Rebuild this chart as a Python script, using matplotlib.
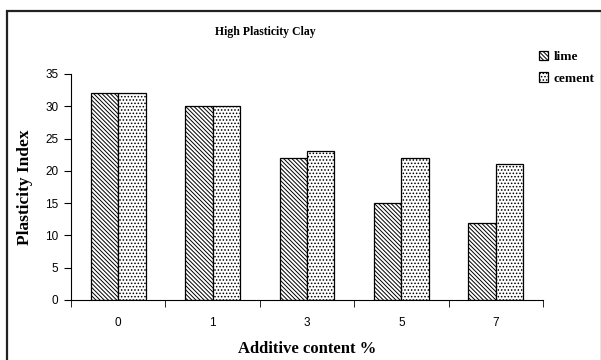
import matplotlib.pyplot as plt
import numpy as np
from matplotlib.patches import Rectangle

# additive content (%) and plasticity index values
content = ['0', '1', '3', '5', '7']
lime = [32, 30, 22, 15, 12]
cement = [32, 30, 23, 22, 21]

plt.rcParams['hatch.linewidth'] = 0.7

fig = plt.figure(figsize=(6.01, 3.60), dpi=100)
ax = fig.add_axes([71/601, 1 - 300/360, (543 - 71)/601, (300 - 74)/360])

x = np.arange(len(content))
w = 0.29
ax.bar(x - w/2, lime, w, color='white', edgecolor='black', hatch='\\' * 8,
       linewidth=0.9, label='lime')
ax.bar(x + w/2, cement, w, color='white', edgecolor='black', hatch='.' * 5,
       linewidth=0.9, label='cement')

ax.set_xlim(-0.5, len(content) - 0.5)
ax.set_ylim(0, 35)
ax.set_yticks(range(0, 36, 5))
ax.set_xticks(x)
ax.set_xticklabels(content)
ax.set_xticks(np.arange(-0.5, len(content)), minor=True)
ax.tick_params(axis='x', which='major', length=0, pad=12)
ax.tick_params(axis='x', which='minor', length=5, direction='out')
ax.tick_params(axis='y', length=5, direction='out', pad=4)
for lbl in ax.get_xticklabels() + ax.get_yticklabels():
    lbl.set_fontfamily('Liberation Sans')
    lbl.set_fontsize(8.5)

ax.spines['top'].set_visible(False)
ax.spines['right'].set_visible(False)

fig.text(25/601, 1 - 187/360, 'Plasticity Index', rotation=90, ha='center', va='center',
         fontfamily='Liberation Serif', fontweight='bold', fontsize=12.5)
fig.text(307/601, 1 - 349/360, 'Additive content %', ha='center', va='center',
         fontfamily='Liberation Serif', fontweight='bold', fontsize=12)
fig.text(265/601, 1 - 32/360, 'High Plasticity Clay', ha='center', va='center',
         fontfamily='Liberation Serif', fontweight='bold', fontsize=8.5)

leg = fig.legend(loc='upper left', bbox_to_anchor=(539/601, 1 - 51/360), frameon=False,
                 prop={'family': 'Liberation Serif', 'weight': 'bold', 'size': 9.5},
                 handlelength=0.7, handleheight=0.7, handletextpad=0.4, labelspacing=0.7,
                 borderaxespad=0, borderpad=0)

# outer frame, only its left and top edges fall inside the canvas
fig.patches.append(Rectangle((7/601, -0.05), 0.99, 1.05 - 11/360, transform=fig.transFigure,
                             fill=False, edgecolor='#222222', linewidth=1.6))

fig.savefig('out.png', dpi=100)
